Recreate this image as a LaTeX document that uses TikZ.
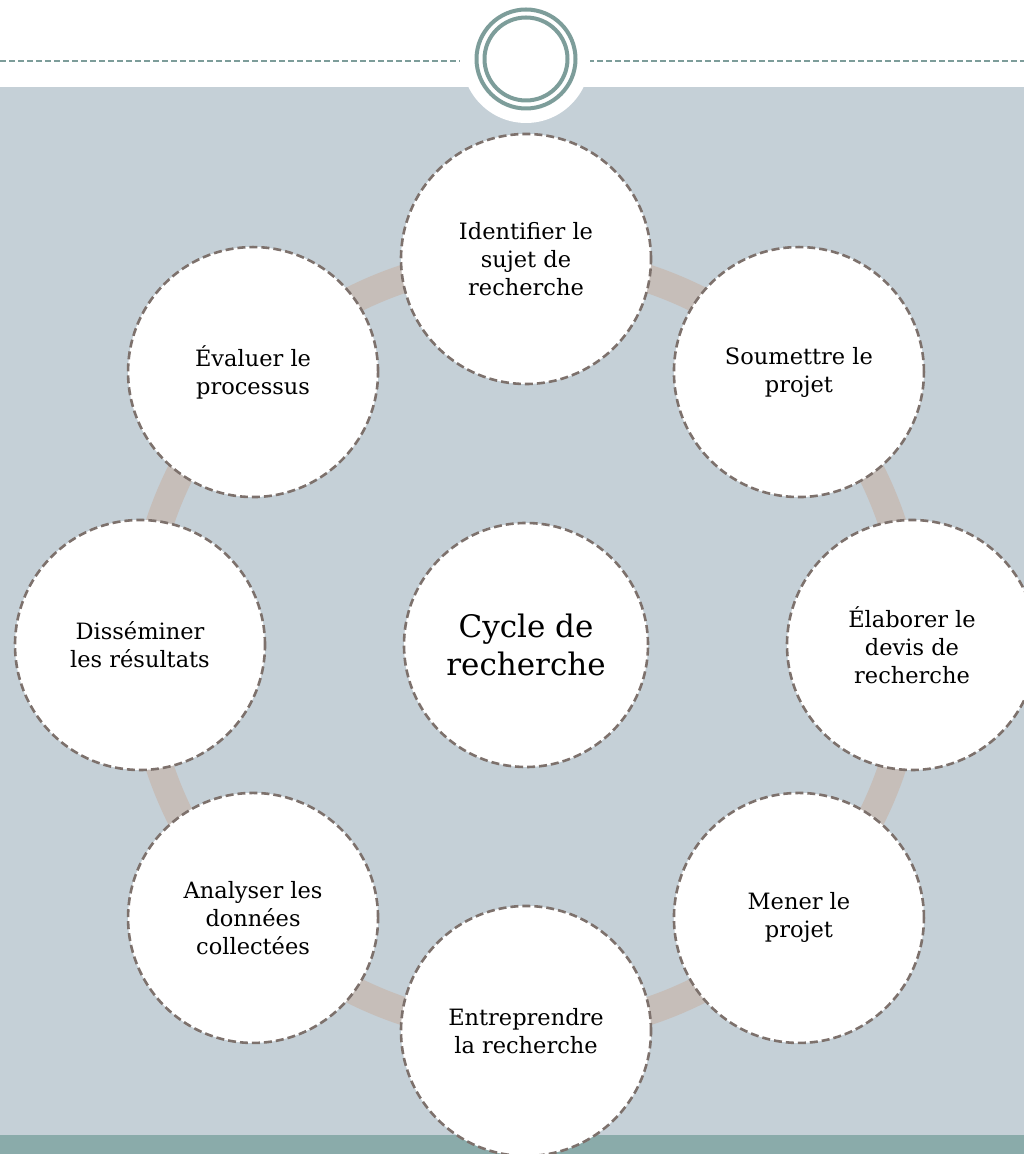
\documentclass[tikz,border=0pt]{standalone}
\usepackage{fontspec}
\setmainfont{DejaVu Serif}
\definecolor{bgblue}{HTML}{C5D0D7}
\definecolor{bandgray}{HTML}{C6BEB9}
\definecolor{brdgray}{HTML}{7D716C}
\definecolor{tealbar}{HTML}{8AABAA}
\definecolor{embteal}{HTML}{7D9D9A}
\tikzset{
  stage/.style={circle, draw=brdgray, fill=white, line width=2.6pt,
    dash pattern=on 8pt off 4pt, minimum size=250pt, inner sep=0pt,
    align=center, font=\fontsize{22.5}{28}\selectfont},
  hubnode/.style={stage, minimum size=244pt, font=\fontsize{31}{38}\selectfont},
  ring/.style={draw=bandgray, line width=28pt},
  topline/.style={draw=embteal, line width=2pt, dash pattern=on 6pt off 3pt},
  emb/.style={draw=embteal, line width=4pt},
}
\begin{document}
\begin{tikzpicture}[x=1pt,y=1pt]
  \useasboundingbox (0,0) rectangle (1024,1154);

  % background
  \fill[white] (0,0) rectangle (1024,1154);
  \fill[bgblue] (0,19) rectangle (1024,1067);
  \fill[tealbar] (0,0) rectangle (1024,19);

  % top rule and emblem
  \coordinate (emblem) at (526,1095);
  \draw[topline] (0,1093) -- (460,1093);
  \draw[topline] (588,1093) -- (1024,1093);
  \fill[white] (emblem) circle[radius=64];
  \draw[emb] (emblem) circle[radius=49.5];
  \draw[emb] (emblem) circle[radius=41.5];

  % cycle
  \coordinate (hub) at (526,509);
  \draw[ring] (hub) circle[radius=386];

  \node[hubnode] (cycle) at (hub) {Cycle de\\recherche};

  \foreach \ang/\txt [count=\i] in {
      90/{Identifier le\\sujet de\\recherche},
      45/{Soumettre le\\projet},
      0/{Élaborer le\\devis de\\recherche},
      -45/{Mener le\\projet},
      -90/{Entreprendre\\la recherche},
      -135/{Analyser les\\données\\collectées},
      180/{Disséminer\\les résultats},
      135/{Évaluer le\\processus}}
    \node[stage] (s\i) at ([shift={(\ang:386)}]hub) {\txt};
\end{tikzpicture}
\end{document}
